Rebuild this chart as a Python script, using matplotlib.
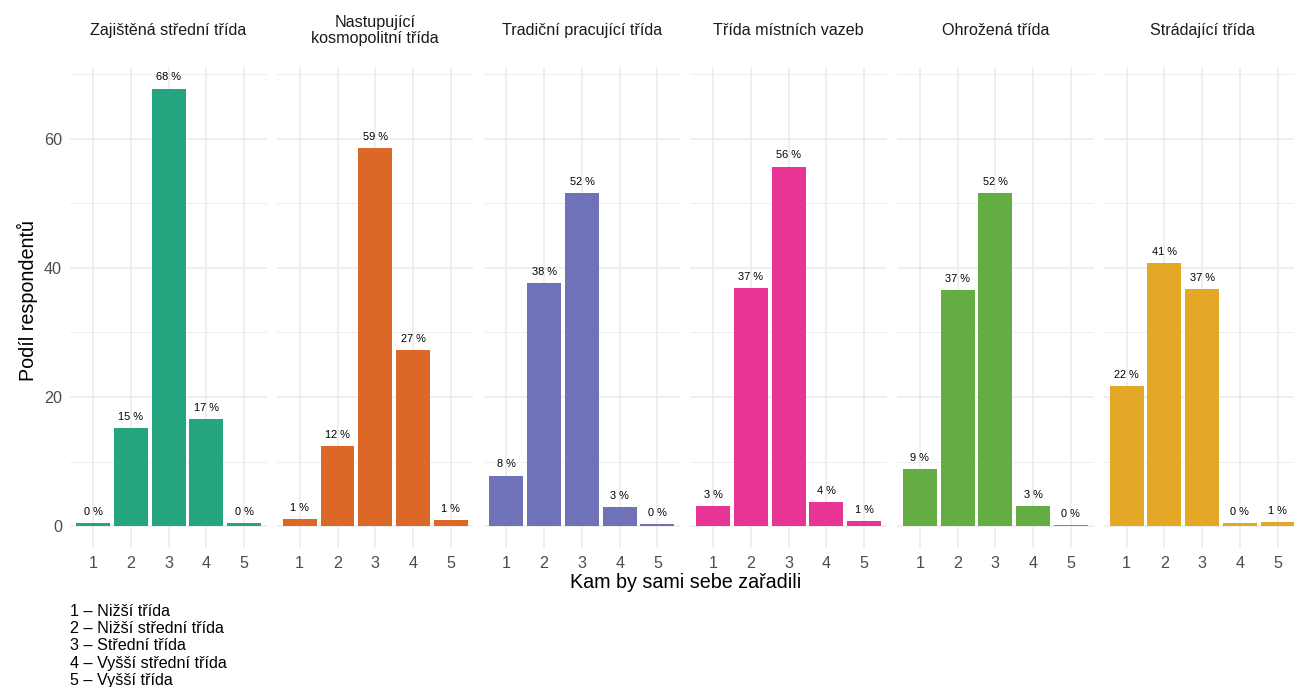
import matplotlib
matplotlib.use('Agg')
import matplotlib.pyplot as plt
from matplotlib.ticker import MultipleLocator

plt.rcParams['font.family'] = ['Liberation Sans', 'DejaVu Sans']

# facet titles and colours
groups = ['Zajištěná střední třída', 'Nastupující\nkosmopolitní třída',
          'Tradiční pracující třída', 'Třída místních vazeb',
          'Ohrožená třída', 'Strádající třída']
colors = ['#25a57f', '#dc6827', '#6f72b6', '#e83495', '#64ad45', '#e3a826']

categories = [1, 2, 3, 4, 5]

# share of respondents (%) per self-placed class
shares = [
    [0.4, 15.2, 67.8, 16.6, 0.4],
    [1.1, 12.4, 58.6, 27.3, 0.9],
    [7.8, 37.7, 51.6, 2.9, 0.3],
    [3.1, 36.9, 55.7, 3.7, 0.8],
    [8.8, 36.6, 51.6, 3.1, 0.15],
    [21.7, 40.8, 36.7, 0.4, 0.6],
]

legend_lines = ['1 – Nižší třída', '2 – Nižší střední třída', '3 – Střední třída',
                '4 – Vyšší střední třída', '5 – Vyšší třída']

W, H = 1294, 687
fig = plt.figure(figsize=(W / 100, H / 100), dpi=100)

grid_col = '#ebebeb'
left0 = 70.4
step = 206.7
pw = 196.3
bottom_px = 547.9
top_px = 67.1

for i, (name, col, vals) in enumerate(zip(groups, colors, shares)):
    left = left0 + i * step
    ax = fig.add_axes([left / W, (H - bottom_px) / H, pw / W, (bottom_px - top_px) / H])
    ax.bar(categories, vals, width=0.9, color=col, zorder=3)
    for x, v in zip(categories, vals):
        ax.annotate(f'{round(v)} %', (x, v), xytext=(0, 4.5), textcoords='offset points',
                    ha='center', va='bottom', fontsize=7.9, color='black', zorder=4)
    ax.set_xlim(0.4, 5.6)
    ax.set_ylim(-3.39, 71.14)
    ax.set_xticks(categories)
    ax.yaxis.set_major_locator(MultipleLocator(20))
    ax.yaxis.set_minor_locator(MultipleLocator(10))
    ax.grid(which='major', color=grid_col, linewidth=1.1, zorder=0)
    ax.grid(which='minor', axis='y', color=grid_col, linewidth=0.6, zorder=0)
    for s in ax.spines.values():
        s.set_visible(False)
    ax.tick_params(which='both', length=0, labelsize=11.6, labelcolor='#4d4d4d', pad=6)
    if i > 0:
        ax.tick_params(axis='y', labelleft=False)
    fig.text((left + pw / 2) / W, 1 - 30.5 / H, name, ha='center', va='center',
             fontsize=11.6, color='#1a1a1a', linespacing=1.05)

fig.text(686 / W, 1 - 583 / H, 'Kam by sami sebe zařadili', ha='center', va='center',
         fontsize=14.2, color='black')
fig.text(27 / W, 1 - 301 / H, 'Podíl respondentů', ha='center', va='center',
         rotation=90, fontsize=14.2, color='black')

for k, line in enumerate(legend_lines):
    fig.text(70 / W, 1 - (611.5 + k * 17.2) / H, line, ha='left', va='center',
             fontsize=11.6, color='black')

fig.savefig('out.png', dpi=100)
